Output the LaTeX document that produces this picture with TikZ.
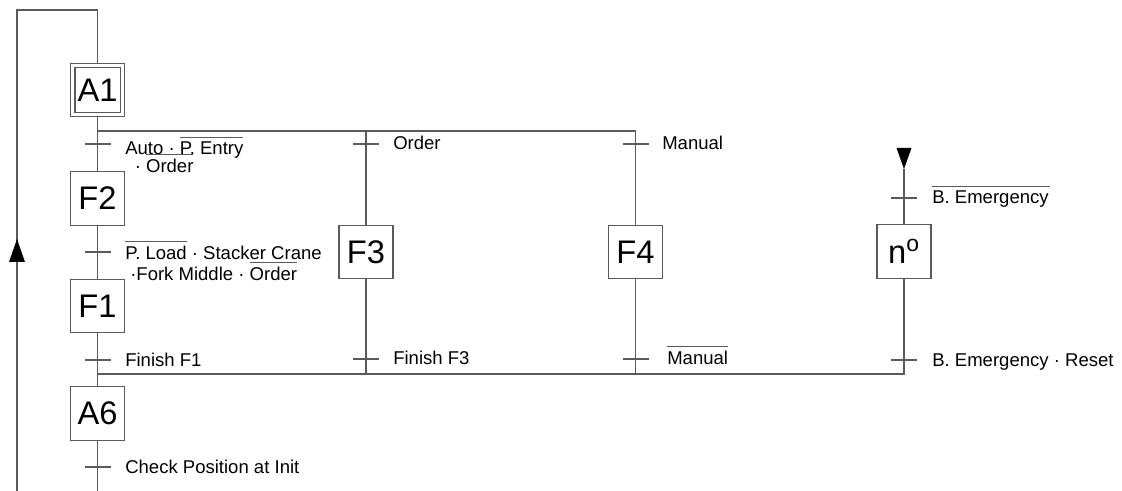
\documentclass[tikz,border=0pt]{standalone}
\usepackage{fontspec}
\setmainfont{Liberation Sans}
\definecolor{lc}{HTML}{5A5A5A}
\newsavebox\negbox
\newcommand\negsig[1]{\begingroup\sbox\negbox{#1}\leavevmode\rlap{\textcolor{lc}{\rule[\dimexpr\ht\negbox+3.4pt\relax]{\wd\negbox}{0.7pt}}}\usebox\negbox\endgroup}
\tikzset{
  ln/.style={draw=lc, line width=0.8pt},
  stepbox/.style={draw=lc, line width=0.8pt, minimum width=40.5pt, minimum height=40.2pt,
    inner sep=0pt, font=\fontsize{24.5}{26}\selectfont},
  lbl/.style={anchor=base west, inner sep=0pt, font=\fontsize{13.9}{16}\selectfont},
  tick/.style={ln}
}
\begin{document}
\begin{tikzpicture}[x=0.75pt,y=-0.75pt]
\useasboundingbox (0,0) rectangle (1122,491);
% steps
\node[stepbox] (A1) at (97.5,90) {A1};
\draw[ln] ([shift={(5,5)}]A1.north west) rectangle ([shift={(-5,-5)}]A1.south east);
\node[stepbox] (F2) at (97.5,198.5) {F2};
\node[stepbox] (F1) at (97.5,306) {F1};
\node[stepbox] (A6) at (97.5,413.5) {A6};
\node[stepbox] (F3) at (366,252) {F3};
\node[stepbox] (F4) at (635.5,252) {F4};
\node[stepbox] (N) at (904,251.5) {n\textsuperscript{o}};
% coordinates
\coordinate (topL) at (17,10);
\coordinate (topM) at (97.5,10);
\coordinate (botL) at (17,491);
\coordinate (botM) at (97.5,491);
\coordinate (brT) at (97.5,131);
\coordinate (brB) at (97.5,374);
\coordinate (Nin) at (904,169);
% main column and loop
\draw[ln] (botL) -- (topL) -- (topM) -- (A1.north);
\draw[ln] (A1.south) -- (F2.north);
\draw[ln] (F2.south) -- (F1.north);
\draw[ln] (F1.south) -- (A6.north);
\draw[ln] (A6.south) -- (botM);
% branches
\draw[ln] (brT) -| (F4.north);
\draw[ln] (F3.north |- brT) -- (F3.north);
\draw[ln] (F3.south) -- (F3.south |- brB);
\draw[ln] (F4.south) -- (F4.south |- brB);
\draw[ln] (N.south) |- (brB);
\draw[ln] (Nin) -- (N.north);
% arrows
\fill[black] (Nin) -- (896.5,148) -- (911.5,148) -- cycle;
\fill[black] (17,239) -- (9,262) -- (25,262) -- cycle;
% transition ticks
\foreach \x/\y in {97.5/144, 97.5/252, 97.5/360, 97.5/467, 366/144, 366/359, 635.5/144, 635.5/359, 904/198, 904/360}
  \draw[tick] (\x-13,\y) -- (\x+13,\y);
% labels
\node[lbl] (l1) at (125,155) {Auto · \negsig{P. Entry}};
\node[lbl] (l1b) at (134.5,173) {· \negsig{Order}};
\node[lbl] (l2) at (125,260) {\negsig{P. Load} · Stacker Crane};
\node[lbl] (l2b) at (130,281) {·Fork Middle · \negsig{Order}};
\node[lbl] (l3) at (125,367) {Finish F1};
\node[lbl] (l4) at (125,474) {Check Position at Init};
\node[lbl] (l5) at (393,150) {Order};
\node[lbl] (l6) at (393,365) {Finish F3};
\node[lbl] (l7) at (662,150) {Manual};
\node[lbl] (l8) at (667,365) {\negsig{Manual}};
\node[lbl] (l9) at (932,204) {\negsig{B. Emergency\kern1pt}};
\node[lbl] (l10) at (932,367) {B. Emergency · Reset};
\end{tikzpicture}
\end{document}
